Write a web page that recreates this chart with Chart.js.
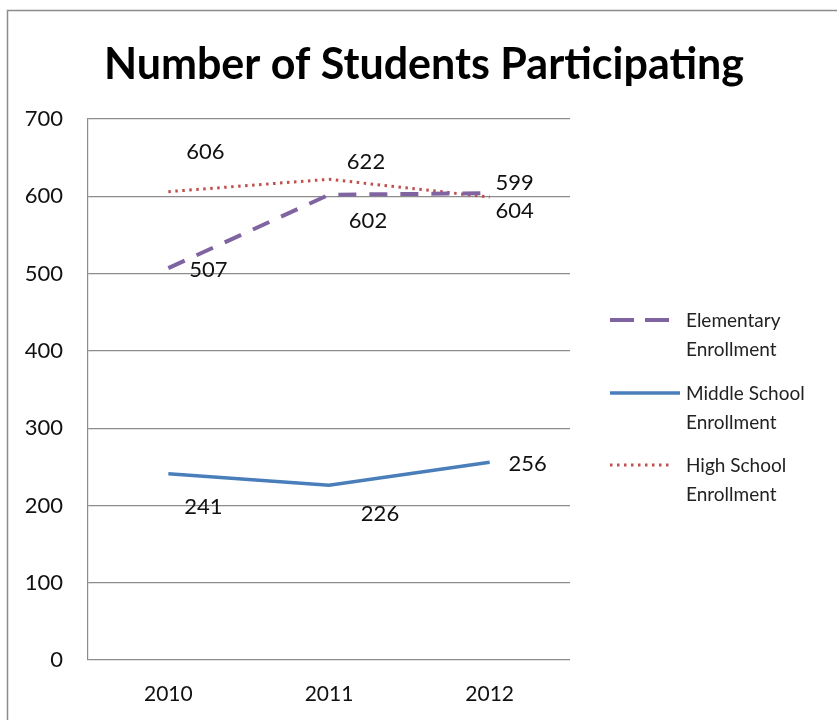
<!DOCTYPE html>
<html>
<head>
<meta charset="utf-8">
<style>
  html, body { margin: 0; padding: 0; background: #fff; }
  #wrap { width: 837px; height: 720px; }
</style>
<script src="https://cdn.jsdelivr.net/npm/chart.js"></script>
</head>
<body>
<div id="wrap"><canvas id="studentsChart" width="837" height="720"></canvas></div>
<script>
  // Years and enrollment counts
  const years = ['2010', '2011', '2012'];
  const elementary = [507, 602, 604];
  const middleSchool = [241, 226, 256];
  const highSchool = [606, 622, 599];
  const yTicks = [0, 100, 200, 300, 400, 500, 600, 700];

  const FONT = 'Lato, "Open Sans", sans-serif';

  // where each value label sits relative to its point (dx, dy)
  const labelOffsets = [
    [[40, 2], [39, 26], [25, 18]],
    [[35, 33], [51, 29], [38, 2]],
    [[37, -40], [37, -17], [25, -14]]
  ];

  const legendNames = [
    ['Elementary', 'Enrollment'],
    ['Middle School', 'Enrollment'],
    ['High School', 'Enrollment']
  ];

  // frame, title, value labels and the side legend
  const decorations = {
    id: 'decorations',
    beforeDraw(chart) {
      const ctx = chart.ctx;
      ctx.save();
      ctx.fillStyle = '#fff';
      ctx.fillRect(0, 0, chart.width, chart.height);
      ctx.strokeStyle = '#8c8c8c';
      ctx.lineWidth = 1.5;
      ctx.strokeRect(7.5, 10.5, 1000, 1000);
      ctx.restore();
    },
    afterDraw(chart) {
      const ctx = chart.ctx;
      ctx.save();

      // title
      ctx.fillStyle = '#000';
      ctx.font = 'bold 43px ' + FONT;
      ctx.textAlign = 'center';
      ctx.textBaseline = 'middle';
      ctx.fillText('Number of Students Participating', 424, 65);

      // value labels
      ctx.font = '22px ' + FONT;
      ctx.fillStyle = '#111';
      chart.data.datasets.forEach((ds, i) => {
        const meta = chart.getDatasetMeta(i);
        meta.data.forEach((pt, j) => {
          const off = labelOffsets[i][j];
          ctx.fillText(String(ds.data[j]), pt.x + off[0], pt.y + off[1]);
        });
      });

      // legend
      ctx.textAlign = 'left';
      ctx.font = '19px ' + FONT;
      const rows = [320, 393, 465];
      chart.data.datasets.forEach((ds, i) => {
        const y = rows[i];
        ctx.beginPath();
        ctx.strokeStyle = ds.borderColor;
        ctx.lineWidth = ds.borderWidth;
        ctx.lineCap = 'butt';
        ctx.setLineDash(i === 0 ? [24, 11] : (ds.borderDash || []));
        ctx.moveTo(610, y);
        ctx.lineTo(i === 1 ? 680 : 670, y);
        ctx.stroke();
        ctx.setLineDash([]);
        ctx.fillStyle = '#222';
        ctx.fillText(legendNames[i][0], 686, y + 1);
        ctx.fillText(legendNames[i][1], 686, y + 30);
      });
      ctx.restore();
    }
  };

  const config = {
    type: 'line',
    data: {
      labels: years,
      datasets: [
        {
          label: 'Elementary Enrollment',
          data: elementary,
          borderColor: '#8064A2',
          borderWidth: 4,
          borderDash: [18, 13],
          pointRadius: 0,
          fill: false,
          tension: 0
        },
        {
          label: 'Middle School Enrollment',
          data: middleSchool,
          borderColor: '#4A7EBB',
          borderWidth: 3.5,
          pointRadius: 0,
          fill: false,
          tension: 0
        },
        {
          label: 'High School Enrollment',
          data: highSchool,
          borderColor: '#C0504D',
          borderWidth: 3,
          borderDash: [2.5, 4.5],
          pointRadius: 0,
          fill: false,
          tension: 0
        }
      ]
    },
    options: {
      responsive: false,
      animation: false,
      layout: { padding: { top: 119, right: 267, bottom: 0, left: 0 } },
      plugins: {
        legend: { display: false },
        title: { display: false },
        tooltip: { enabled: false }
      },
      scales: {
        x: {
          offset: true,
          grid: { display: false },
          border: { display: false },
          ticks: {
            color: '#111',
            font: { family: FONT, size: 21 },
            padding: 14
          },
          afterFit(scale) { scale.height = 60; }
        },
        y: {
          min: 0,
          max: 700,
          afterBuildTicks(scale) {
            scale.ticks = yTicks.map(v => ({ value: v }));
          },
          grid: { color: '#8c8c8c', lineWidth: 1.2, drawTicks: false },
          border: { display: true, color: '#8c8c8c', width: 1.2 },
          ticks: {
            color: '#111',
            font: { family: FONT, size: 22 },
            padding: 25
          },
          afterFit(scale) { scale.width = 88; }
        }
      }
    },
    plugins: [decorations]
  };

  new Chart(document.getElementById('studentsChart'), config);
</script>
</body>
</html>
